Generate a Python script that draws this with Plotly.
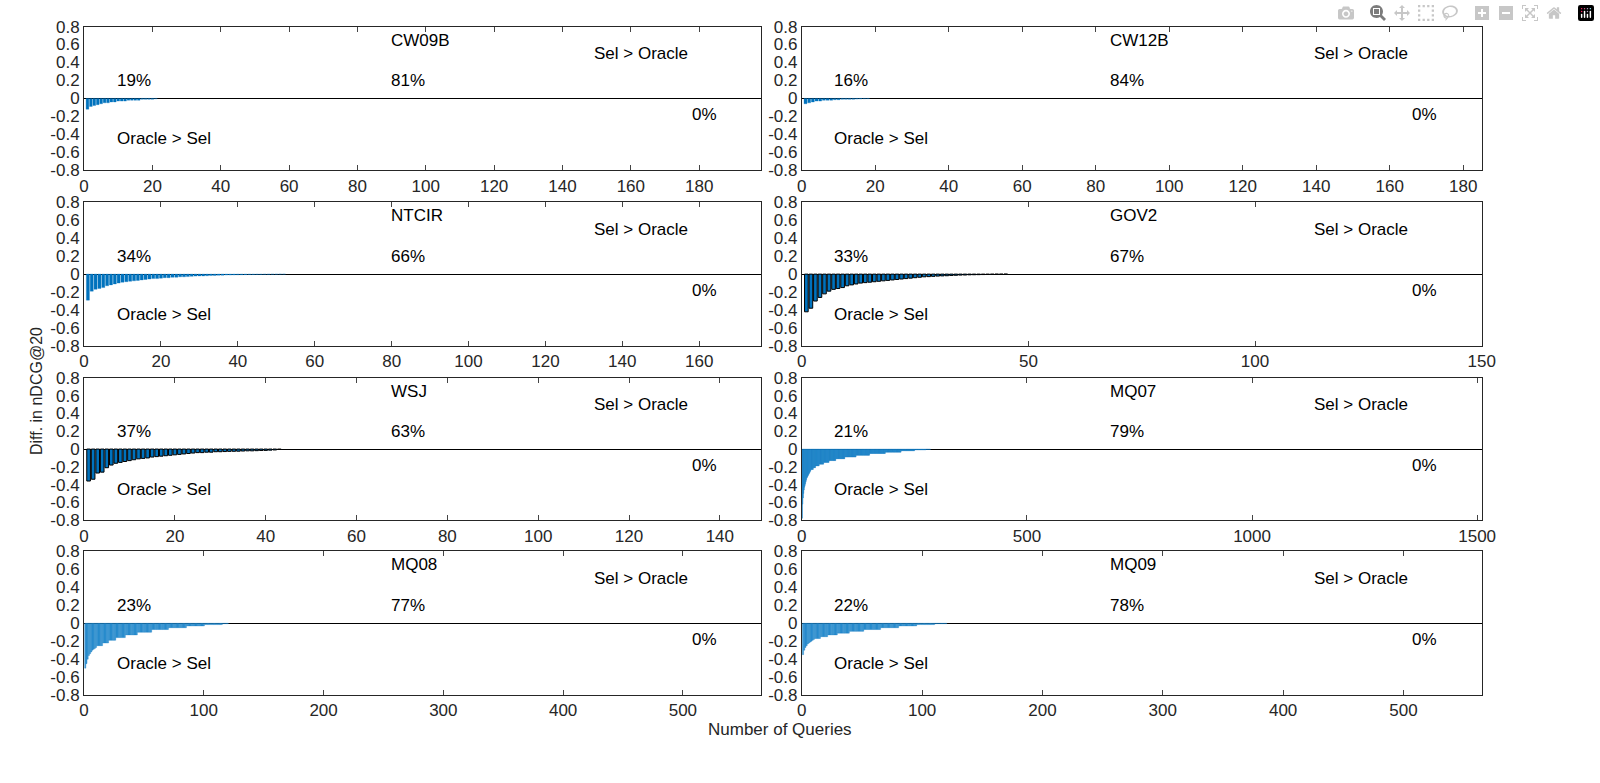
import plotly.graph_objects as go
from plotly.subplots import make_subplots

# dataset names, query counts and the negative differences (Sel - Oracle), sorted
names = ["CW09B", "CW12B", "NTCIR", "GOV2", "WSJ", "MQ07", "MQ08", "MQ09"]
x_max = [198, 185, 176, 150, 149, 1510, 565, 565]
x_dtick = [20, 20, 20, 50, 20, 500, 100, 100]
pct_neg = ["19%", "16%", "34%", "33%", "37%", "21%", "23%", "22%"]
pct_zero = ["81%", "84%", "66%", "67%", "63%", "79%", "77%", "78%"]
pct_pos = ["0%"] * 8

cw09b = [-0.12, -0.09, -0.08, -0.07, -0.06, -0.05, -0.05, -0.04, -0.04, -0.03,
         -0.03, -0.03, -0.02, -0.02, -0.02, -0.02, -0.01, -0.01, -0.01, -0.01,
         -0.005]
cw12b = [-0.06, -0.05, -0.04, -0.03, -0.03, -0.02, -0.02, -0.02, -0.015, -0.015,
         -0.01, -0.01, -0.01, -0.01, -0.008, -0.006, -0.004, -0.003]
ntcir = [-0.29, -0.19, -0.17, -0.16, -0.15, -0.13, -0.12, -0.11, -0.10, -0.09,
         -0.085, -0.08, -0.075, -0.07, -0.065, -0.06, -0.055, -0.05, -0.05, -0.045,
         -0.04, -0.04, -0.035, -0.035, -0.03, -0.03, -0.028, -0.025, -0.022, -0.02,
         -0.02, -0.018, -0.016, -0.015, -0.013, -0.012, -0.01, -0.01, -0.009, -0.008,
         -0.007, -0.006, -0.005, -0.005, -0.004, -0.004, -0.003, -0.003, -0.002, -0.002,
         -0.001, -0.001]
gov2 = [-0.42, -0.38, -0.30, -0.26, -0.22, -0.19, -0.17, -0.16, -0.15, -0.13,
        -0.12, -0.11, -0.10, -0.095, -0.09, -0.085, -0.08, -0.075, -0.07, -0.065,
        -0.06, -0.055, -0.05, -0.045, -0.04, -0.035, -0.03, -0.028, -0.025, -0.022,
        -0.02, -0.018, -0.015, -0.013, -0.011, -0.01, -0.008, -0.007, -0.006, -0.005,
        -0.004, -0.003, -0.002, -0.002, -0.001]
wsj = [-0.36, -0.34, -0.27, -0.26, -0.21, -0.18, -0.16, -0.15, -0.14, -0.13,
       -0.12, -0.11, -0.105, -0.10, -0.09, -0.085, -0.08, -0.075, -0.07, -0.065,
       -0.06, -0.055, -0.05, -0.045, -0.04, -0.04, -0.035, -0.035, -0.03, -0.03,
       -0.028, -0.026, -0.025, -0.024, -0.022, -0.02, -0.02, -0.018, -0.016, -0.015,
       -0.012, -0.01, -0.005]
mq07 = ([-0.78, -0.62, -0.55, -0.50, -0.46, -0.43, -0.41, -0.39, -0.37, -0.35,
         -0.33, -0.32, -0.31, -0.30, -0.29, -0.28, -0.27, -0.26, -0.25, -0.24]
        + [-0.23] * 5 + [-0.21] * 5 + [-0.19] * 8 + [-0.17] * 10 + [-0.15] * 12
        + [-0.13] * 15 + [-0.11] * 20 + [-0.09] * 25 + [-0.07] * 30 + [-0.05] * 35
        + [-0.035] * 35 + [-0.02] * 30 + [-0.01] * 25 + [-0.004] * 10)
mq08 = ([-0.50, -0.45, -0.40, -0.36, -0.34, -0.32, -0.30, -0.29, -0.28, -0.27]
        + [-0.25] * 5 + [-0.22] * 5 + [-0.19] * 6 + [-0.16] * 8 + [-0.13] * 10
        + [-0.10] * 12 + [-0.07] * 14 + [-0.05] * 15 + [-0.03] * 15 + [-0.015] * 15
        + [-0.005] * 5)
mq09 = ([-0.35, -0.30, -0.27, -0.25, -0.23, -0.22, -0.21, -0.20, -0.19, -0.18]
        + [-0.17] * 5 + [-0.15] * 6 + [-0.13] * 8 + [-0.11] * 10 + [-0.09] * 12
        + [-0.07] * 14 + [-0.05] * 15 + [-0.03] * 15 + [-0.015] * 15 + [-0.005] * 10)
diffs = [cw09b, cw12b, ntcir, gov2, wsj, mq07, mq08, mq09]

FONT = "Liberation Sans, Arial, sans-serif"
fig = make_subplots(rows=4, cols=2)

x_dom = [[0.05, 0.478], [0.504, 0.934]]
y_dom = [[0.789, 0.977], [0.559, 0.747], [0.331, 0.517], [0.102, 0.290]]

for i, name in enumerate(names):
    r, c = i // 2 + 1, i % 2 + 1
    outlined = name in ("GOV2", "WSJ")
    vals = diffs[i]
    fig.add_trace(go.Bar(
        x=list(range(1, len(vals) + 1)), y=vals,
        marker_color="#0072BD" if len(vals) < 100 else "#3a97d4",
        marker_line_color="black" if outlined else "#0072BD",
        marker_line_width=1 if outlined else 0.3,
        width=0.8 if len(vals) < 100 else 1.0,
        showlegend=False), row=r, col=c)
    xa = "xaxis" if i == 0 else f"xaxis{i + 1}"
    ya = "yaxis" if i == 0 else f"yaxis{i + 1}"
    fig.layout[xa].update(domain=x_dom[c - 1], range=[0, x_max[i]], dtick=x_dtick[i],
                          showgrid=False, zeroline=False, ticks="inside", ticklen=5,
                          mirror="ticks", showline=True, linecolor="#262626",
                          tickfont=dict(size=17, color="#262626", family=FONT))
    fig.layout[ya].update(domain=y_dom[r - 1], range=[-0.8, 0.8],
                          tickvals=[-0.8, -0.6, -0.4, -0.2, 0, 0.2, 0.4, 0.6, 0.8],
                          ticktext=["-0.8", "-0.6", "-0.4", "-0.2", "0", "0.2", "0.4", "0.6", "0.8"],
                          showgrid=False, zeroline=True, zerolinecolor="black", zerolinewidth=1,
                          ticks="", mirror=True, showline=True, linecolor="#262626",
                          tickfont=dict(size=17, color="#262626", family=FONT))
    xd = xa.replace("axis", "") + " domain"
    yr = ya.replace("axis", "")
    labels = [(0.45, 0.65, name), (0.45, 0.2, pct_zero[i]), (0.045, 0.2, pct_neg[i]),
              (0.75, 0.5, "Sel > Oracle"), (0.895, -0.18, pct_pos[i]),
              (0.045, -0.45, "Oracle > Sel")]
    for lx, ly, txt in labels:
        fig.add_annotation(x=lx, y=ly, xref=xd, yref=yr, text=txt, showarrow=False,
                           xanchor="left", yanchor="middle",
                           font=dict(size=17, color="black", family=FONT))

fig.add_annotation(x=0.013, y=0.5, xref="paper", yref="paper", text="Diff. in nDCG@20",
                   textangle=-90, showarrow=False, font=dict(size=16, color="#262626", family=FONT))
fig.add_annotation(x=0.49, y=0.042, xref="paper", yref="paper", text="Number of Queries",
                   showarrow=False, font=dict(size=17, color="#262626", family=FONT))

fig.update_layout(width=1600, height=783, margin=dict(l=0, r=0, t=0, b=0),
                  plot_bgcolor="white", paper_bgcolor="white", bargap=0.1)
fig.write_html("out.html", post_script="document.body.style.margin='0';document.body.style.overflow='hidden';")
